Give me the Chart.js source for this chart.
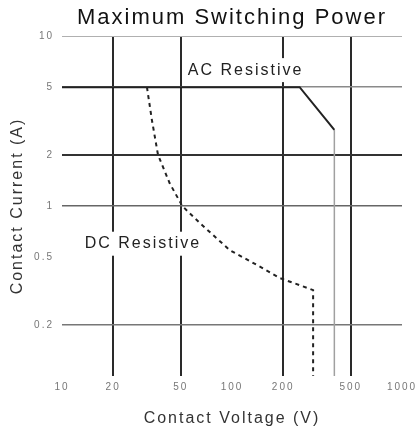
<!DOCTYPE html>
<html>
<head>
<meta charset="utf-8">
<script src="https://cdn.jsdelivr.net/npm/chart.js@4.4.1/dist/chart.umd.min.js"></script>
<style>
  body { margin: 0; background: #fff; }
  #chart { display: block; }
</style>
</head>
<body>
<canvas id="chart" width="419" height="434"></canvas>
<script>
// --- data ---
const voltageTicks = [10, 20, 50, 100, 200, 500, 1000];
const currentTicks = [0.2, 0.5, 1, 2, 5, 10];

const acVoltage = [10, 250, 400, 400];
const acCurrent = [5, 5, 2.8, 0.1];

const dcVoltage = [31.6, 33.8, 36.7, 43, 51, 65, 97, 146, 191, 288, 300, 300];
const dcCurrent = [5, 3.2, 2, 1.36, 1, 0.79, 0.55, 0.44, 0.377, 0.325, 0.32, 0.1];

const FONT = "'Liberation Sans', Arial, sans-serif";

const toPoints = (xs, ys) => xs.map((x, i) => ({ x: x, y: ys[i] }));

// vertical grid only on some of the voltage ticks
const xGridOn = [20, 50, 200, 500];
const yGridStyle = {
  10: ["#b0b0b0", 1],
  5: ["#8a8a8a", 1.5],
  2: ["#333", 2],
  1: ["#666", 1.5],
  0.2: ["#777", 1.5]
};

// letter spacing for every text on the canvas
const spacingPlugin = {
  id: "spacing",
  beforeDraw(chart) { chart.ctx.letterSpacing = "2px"; },
  afterDraw(chart) { chart.ctx.letterSpacing = "0px"; }
};

// "AC Resistive" / "DC Resistive" captions on a white box
const captionPlugin = {
  id: "captions",
  afterDatasetsDraw(chart) {
    const { ctx, scales } = chart;
    const items = [
      { text: "AC Resistive", x: 55, y: 6.3 },
      { text: "DC Resistive", x: 13.6, y: 0.6 }
    ];
    ctx.save();
    ctx.font = "16px " + FONT;
    ctx.letterSpacing = "2px";
    ctx.textBaseline = "middle";
    ctx.textAlign = "left";
    items.forEach(it => {
      const px = scales.x.getPixelForValue(it.x);
      const py = scales.y.getPixelForValue(it.y);
      const w = ctx.measureText(it.text).width;
      ctx.fillStyle = "#fff";
      ctx.fillRect(px - 3, py - 12, w + 4, 24);
      ctx.fillStyle = "#222";
      ctx.fillText(it.text, px, py);
    });
    ctx.restore();
  }
};

new Chart(document.getElementById("chart").getContext("2d"), {
  type: "scatter",
  data: {
    datasets: [
      {
        label: "AC Resistive",
        data: toPoints(acVoltage, acCurrent),
        showLine: true,
        borderColor: "#222",
        borderWidth: 2,
        pointRadius: 0,
        segment: {
          borderColor: c => c.p0DataIndex >= 2 ? "#a0a0a0" : "#222",
          borderWidth: c => c.p0DataIndex >= 2 ? 1.5 : 2
        }
      },
      {
        label: "DC Resistive",
        data: toPoints(dcVoltage, dcCurrent),
        showLine: true,
        borderColor: "#222",
        borderWidth: 2,
        borderDash: [4, 4],
        pointRadius: 0
      }
    ]
  },
  options: {
    responsive: false,
    animation: false,
    layout: { padding: { top: 0, right: 17, bottom: 0, left: 0 } },
    plugins: {
      legend: { display: false },
      tooltip: { enabled: false },
      title: {
        display: true,
        fullSize: false,
        text: "Maximum Switching Power",
        color: "#111",
        font: { family: FONT, size: 22, weight: "normal", lineHeight: 1.2 },
        padding: { top: 4.5, bottom: 5.1 }
      }
    },
    scales: {
      x: {
        type: "logarithmic",
        min: 10,
        max: 1000,
        afterBuildTicks: s => { s.ticks = voltageTicks.map(v => ({ value: v })); },
        afterFit: s => { s.height = 58; s.paddingLeft = 0; s.paddingRight = 0; },
        border: { display: false },
        grid: {
          drawTicks: false,
          color: c => xGridOn.includes(c.tick && c.tick.value) ? "#2a2a2a" : "rgba(0,0,0,0)",
          lineWidth: 2
        },
        ticks: {
          autoSkip: false,
          maxRotation: 0,
          padding: 5,
          color: "#777",
          font: { family: FONT, size: 10 },
          callback: v => String(v)
        },
        title: {
          display: true,
          text: "Contact Voltage (V)",
          color: "#333",
          font: { family: FONT, size: 16, lineHeight: 1.2 },
          padding: { top: 0, bottom: 6 }
        }
      },
      y: {
        type: "logarithmic",
        min: 0.1,
        max: 10,
        afterBuildTicks: s => { s.ticks = currentTicks.map(v => ({ value: v })); },
        afterFit: s => { s.width = 62; s.paddingTop = 0; s.paddingBottom = 0; },
        border: { display: false },
        grid: {
          drawTicks: false,
          color: c => {
            const st = c.tick && yGridStyle[c.tick.value];
            return st ? st[0] : "rgba(0,0,0,0)";
          },
          lineWidth: c => {
            const st = c.tick && yGridStyle[c.tick.value];
            return st ? st[1] : 0;
          }
        },
        ticks: {
          autoSkip: false,
          padding: 8,
          color: "#777",
          font: { family: FONT, size: 10 },
          callback: v => String(v)
        },
        title: {
          display: true,
          text: "Contact Current (A)",
          color: "#333",
          font: { family: FONT, size: 16, lineHeight: 1.2 },
          padding: { top: 8, bottom: 0 }
        }
      }
    }
  },
  plugins: [spacingPlugin, captionPlugin]
});
</script>
</body>
</html>
